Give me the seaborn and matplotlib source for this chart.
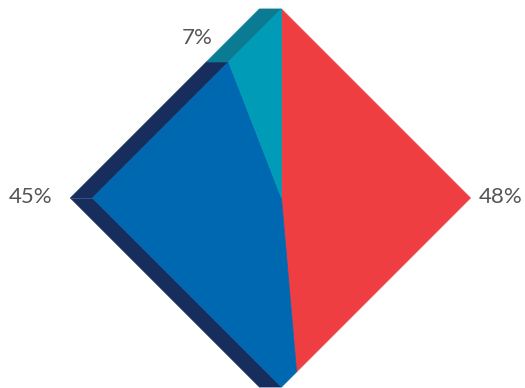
import numpy as np
import matplotlib
matplotlib.use("Agg")
import matplotlib.pyplot as plt
import seaborn as sns

# Share of each segment (percent), drawn clockwise from the top corner
segments = ["A", "B", "C"]
shares = [48, 45, 7]
labels = ["48%", "45%", "7%"]
face_colors = ["#EF3E42", "#0067B1", "#009BB7"]
side_colors = ["#B02A2E", "#172D5C", "#0B7A93"]

sns.set_theme(style="white")
plt.rcParams["font.family"] = ["Lato", "DejaVu Sans"]

W, H, DPI = 525, 388, 100
fig = plt.figure(figsize=(W / DPI, H / DPI), dpi=DPI)
ax = fig.add_axes([0, 0, 1, 1])
ax.set_xlim(0, W)
ax.set_ylim(H, 0)
ax.set_axis_off()

# Diamond geometry (pixel space)
cx, cy, r = 281.5, 198.0, 189.0
depth = 22.0
corners = np.array([[cx, cy - r], [cx + r, cy], [cx, cy + r], [cx - r, cy], [cx, cy - r]])


def perim(t):
    """Point on the diamond outline at perimeter fraction t (0 = top, clockwise)."""
    t = min(max(t, 0.0), 1.0)
    k = min(int(t * 4), 3)
    f = t * 4 - k
    return corners[k] + f * (corners[k + 1] - corners[k])


def outline(t0, t1):
    pts = [perim(t0)]
    for k in range(1, 4):
        if t0 < k / 4 < t1:
            pts.append(corners[k])
    pts.append(perim(t1))
    return pts


fracs = np.array(shares, dtype=float) / sum(shares)
bounds = np.concatenate([[0], np.cumsum(fracs)])

# Extruded side faces along the two left edges
shift = np.array([-depth, 0.0])
for i in range(len(shares)):
    t0, t1 = bounds[i], bounds[i + 1]
    for e0, e1 in [(0.5, 0.75), (0.75, 1.0)]:
        a, b = max(t0, e0), min(t1, e1)
        if b <= a:
            continue
        p, q = perim(a), perim(b)
        quad = np.array([p, q, q + shift, p + shift])
        ax.fill(quad[:, 0], quad[:, 1], color=side_colors[i], lw=0.6,
                ec=side_colors[i], zorder=1)
# Facet seam at the left corner
ax.plot([cx - r, cx - r - depth], [cy, cy], color="#3B5A8C", lw=0.6, zorder=1.5)

# Front faces
for i in range(len(shares)):
    pts = np.array([[cx, cy]] + outline(bounds[i], bounds[i + 1]))
    ax.fill(pts[:, 0], pts[:, 1], color=face_colors[i], lw=0.5,
            ec=face_colors[i], zorder=2)

# Percentage labels
label_pos = [(501, 197), (31, 197), (197, 38)]
for (x, y), txt in zip(label_pos, labels):
    ax.text(x, y, txt, ha="center", va="center", fontsize=16,
            color="#555555", zorder=3)

fig.savefig("out.png", dpi=DPI)
